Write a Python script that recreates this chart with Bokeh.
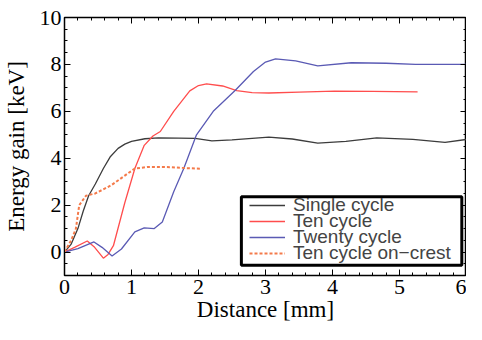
from bokeh.plotting import figure
from bokeh.models import Range1d, SingleIntervalTicker, LinearAxis, Legend, LegendItem, CustomJSTickFormatter, BoxAnnotation
from bokeh.embed import file_html
from bokeh.resources import INLINE

single_x = [0, 0.1, 0.2, 0.28, 0.36, 0.46, 0.58, 0.68, 0.8, 0.9, 1.0, 1.2, 1.4, 1.7, 1.95, 2.2, 2.5, 2.8, 3.05, 3.4, 3.78, 4.2, 4.66, 5.2, 5.68, 6.0]
single_y = [0, 0.34, 1.0, 1.75, 2.4, 2.9, 3.56, 4.05, 4.42, 4.6, 4.72, 4.83, 4.87, 4.86, 4.85, 4.74, 4.78, 4.85, 4.9, 4.82, 4.64, 4.72, 4.87, 4.8, 4.68, 4.8]

ten_x = [0, 0.15, 0.34, 0.45, 0.58, 0.65, 0.73, 0.9, 1.05, 1.19, 1.32, 1.43, 1.63, 1.87, 2.0, 2.12, 2.36, 2.57, 2.8, 3.05, 3.5, 4.03, 4.6, 5.27]
ten_y = [0, 0.2, 0.47, 0.2, -0.26, -0.1, 0.27, 2.1, 3.56, 4.55, 4.95, 5.14, 6.0, 6.87, 7.1, 7.17, 7.08, 6.88, 6.8, 6.78, 6.82, 6.86, 6.85, 6.83]

twenty_x = [0, 0.2, 0.44, 0.56, 0.71, 0.85, 1.05, 1.19, 1.34, 1.46, 1.63, 1.78, 1.97, 2.22, 2.55, 2.82, 3.0, 3.15, 3.45, 3.78, 4.28, 4.8, 5.24, 6.0]
twenty_y = [0, 0.15, 0.43, 0.2, -0.17, 0.13, 0.86, 1.03, 1.0, 1.28, 2.57, 3.56, 5.0, 6.0, 6.9, 7.7, 8.1, 8.24, 8.15, 7.94, 8.07, 8.05, 8.0, 8.0]

crest_x = [0, 0.1, 0.17, 0.22, 0.32, 0.46, 0.7, 0.9, 1.05, 1.25, 1.58, 1.8, 2.05]
crest_y = [0, 0.5, 1.0, 2.0, 2.4, 2.5, 2.85, 3.26, 3.56, 3.63, 3.62, 3.58, 3.55]

labels = ["Single cycle", "Ten cycle", "Twenty cycle", "Ten cycle on\u2212crest"]

SERIF = "Liberation Serif"
SANS = "Liberation Sans"

p = figure(width=466, height=324, output_backend="svg", toolbar_location=None,
           x_range=Range1d(0, 6), y_range=Range1d(-1, 10),
           min_border_left=63, min_border_right=0, min_border_top=17, min_border_bottom=40)
p.grid.visible = False
p.outline_line_color = "black"
p.outline_line_width = 1.5
p.background_fill_color = "white"
p.border_fill_color = "white"

xax = p.below[0]
yax = p.left[0]
xax.ticker = SingleIntervalTicker(interval=1, num_minor_ticks=5)
yax.ticker = SingleIntervalTicker(interval=2, num_minor_ticks=4)
xax.axis_label = "Distance [mm]"
yax.axis_label = "Energy gain [keV]"

blank = CustomJSTickFormatter(code="return ''")
extra_top = LinearAxis(ticker=SingleIntervalTicker(interval=1, num_minor_ticks=5), formatter=blank)
extra_right = LinearAxis(ticker=SingleIntervalTicker(interval=2, num_minor_ticks=4), formatter=blank)
p.add_layout(extra_top, "above")
p.add_layout(extra_right, "right")
for ax in (extra_top, extra_right):
    ax.major_label_standoff = 0
    ax.major_label_text_font_size = "1px"

for ax in (xax, yax, extra_top, extra_right):
    ax.axis_line_color = "black"
    ax.major_tick_in = 6
    ax.major_tick_out = 0
    ax.minor_tick_in = 3
    ax.minor_tick_out = 0
    ax.major_tick_line_color = "black"
    ax.minor_tick_line_color = "black"
    ax.major_label_text_font = SERIF
    ax.axis_label_text_font = SERIF
    ax.axis_label_text_font_style = "normal"
    ax.axis_label_text_color = "black"
    ax.major_label_text_color = "black"

xax.major_label_text_font_size = "22px"
yax.major_label_text_font_size = "22px"
xax.axis_label_text_font_size = "23px"
yax.axis_label_text_font_size = "23px"
xax.major_label_standoff = 4
yax.major_label_standoff = 3
xax.axis_label_standoff = 0
yax.axis_label_standoff = 8

r1 = p.line(single_x, single_y, line_color="#3c3c3c", line_width=1.3)
r2 = p.line(ten_x, ten_y, line_color="#ff4d4d", line_width=1.3)
r3 = p.line(twenty_x, twenty_y, line_color="#5a5ab4", line_width=1.3)
r4 = p.line(crest_x, crest_y, line_color="#f47a4a", line_width=2, line_dash="3 2")

box = BoxAnnotation(left=2.64, right=5.93, bottom=-0.56, top=2.36,
                    fill_color="white", fill_alpha=1,
                    line_color="black", line_width=3, line_alpha=1)
p.add_layout(box)

renderers = [r1, r2, r3, r4]
offsets = [59, 43, 27, 11]
for lab, r, off in zip(labels, renderers, offsets):
    lg = Legend(items=[LegendItem(label=lab, renderers=[r])], location=(185, off))
    lg.label_text_font = SANS
    lg.label_text_font_size = "19px"
    lg.label_height = 14
    lg.glyph_height = 14
    lg.glyph_width = 36
    lg.label_standoff = 8
    lg.spacing = 0
    lg.padding = 0
    lg.margin = 0
    lg.border_line_color = None
    lg.background_fill_alpha = 0
    p.add_layout(lg, "center")

open("out.html", "w").write(file_html(p, INLINE))
